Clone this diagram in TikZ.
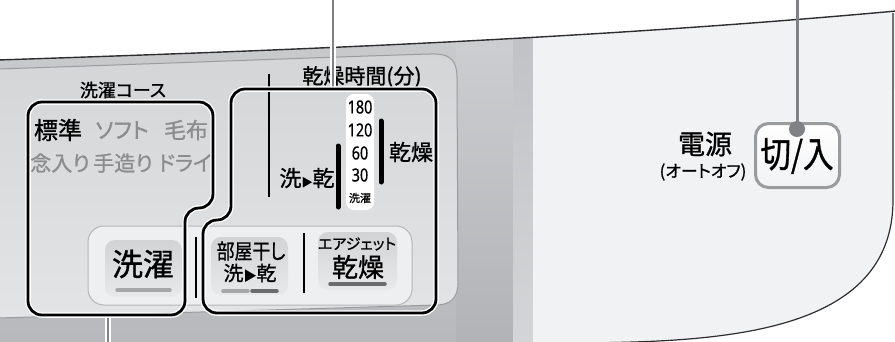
\documentclass[tikz,border=0pt]{standalone}
\usepackage{fontspec}
\setmainfont{Noto Sans CJK JP}[RawFeature=+palt, FakeBold=1]
\newfontfamily\numfont{Noto Sans}[FakeBold=0.6]
\usetikzlibrary{positioning}
\definecolor{edgecol}{HTML}{2E2E30}
\definecolor{basetop}{HTML}{CBCCCE}
\definecolor{basebot}{HTML}{B8B9BC}
\definecolor{sidetop}{HTML}{D0D1D3}
\definecolor{sidebot}{HTML}{B2B3B6}
\definecolor{stripetop}{HTML}{BFC0C3}
\definecolor{stripebot}{HTML}{D4D5D7}
\definecolor{facecol}{HTML}{F1F2F4}
\definecolor{innertop}{HTML}{D4D5D7}
\definecolor{innerbot}{HTML}{E3E4E6}
\definecolor{innerline}{HTML}{9A9B9D}
\definecolor{bandcol}{HTML}{EEEFF0}
\definecolor{bandline}{HTML}{B4B5B7}
\definecolor{btntop}{HTML}{D2D3D5}
\definecolor{btnbot}{HTML}{E8E9EA}
\definecolor{optgray}{HTML}{8B8C8E}
\definecolor{leadgray}{HTML}{808184}
\definecolor{ulight}{HTML}{A6A7A9}
\definecolor{udark}{HTML}{6B6C6E}
\definecolor{pwrline}{HTML}{9A9B9D}
\newcommand{\fsz}[1]{\fontsize{#1}{#1}\selectfont}
\tikzset{
lbl/.style={inner sep=0pt, text=black},
optlbl/.style={inner sep=0pt, text=optgray},
btn/.style={rounded corners=10pt, top color=btntop, bottom color=btnbot, inner sep=0pt},
pwrbtn/.style={rounded corners=13pt, draw=pwrline, line width=3pt, top color=white, bottom color=facecol, inner sep=0pt},
boxline/.style={draw=black, line width=2.8pt, rounded corners=14pt, preaction={draw=white, line width=5.5pt}},
leader/.style={draw=leadgray, line width=2.6pt, preaction={draw=white, line width=5.5pt}},
bar/.style={line width=5pt, line cap=round},
ubar/.style={line width=3.5pt, line cap=round},
numcol/.style={fill=white, rounded corners=8pt, minimum width=28pt, minimum height=116pt, inner sep=0pt}
}

\begin{document}
\begin{tikzpicture}[x=1pt,y=-1pt]
\useasboundingbox (0,0) rectangle (895,341);
% body of the appliance
\begin{scope}
\clip (-2,60) .. controls (300,50) and (600,38) .. (896,11) -- (893,200) .. controls (893,335) and (720,342) .. (575,343) -- (-2,343) -- cycle;
\fill[top color=basetop, bottom color=basebot] (-2,0) rectangle (456,343);
\fill[top color=sidetop, bottom color=sidebot] (456,0) rectangle (513,343);
\fill[top color=stripetop, bottom color=stripebot] (513,0) rectangle (533,343);
\fill[facecol] (533,0) rectangle (900,343);
\end{scope}
\draw[line width=1.4pt, edgecol] (-2,60) .. controls (300,50) and (600,38) .. (896,11);
\draw[line width=1.2pt, edgecol] (893,13) -- (893,200) .. controls (893,335) and (720,342) .. (575,343);

% raised panel
\draw[top color=innertop, bottom color=innerbot, draw=innerline, line width=1pt]
  (-2,69) .. controls (150,64) and (300,58) .. (430,54) .. controls (452,53) and (457,62) .. (457,78)
  -- (458,283) .. controls (458,298) and (450,305) .. (436,305) -- (-2,318) -- cycle;
\draw[fill=bandcol, draw=bandline, line width=1pt, rounded corners=16pt] (88,226) rectangle (412,305);
\draw[line width=1.3pt] (196,237) -- (196,298);

% buttons
\node[btn, minimum width=77pt, minimum height=57pt] (washBtn) at (143.5,268.5) {};
\node[btn, minimum width=77pt, minimum height=58pt] (roomBtn) at (249.5,266) {};
\node[btn, minimum width=79pt, minimum height=58pt] (airBtn) at (357.5,261) {};
\draw[ubar, ulight] (117,290) -- (170,290);
\draw[ubar, ulight] (223,291) -- (248,291);
\draw[ubar, udark] (252,291) -- (277,291);
\draw[ubar, udark] (330,284) -- (385,284);
\draw[line width=1.3pt] (304,233) -- (304,293);

\node[lbl] (washTxt) at (143,264) {\fsz{31}洗濯};
\node[lbl] (roomTxt) at (251,251) {\scalebox{0.85}[1]{\fsz{21}部屋干し}};
\node[lbl] (roomSub) at (250,273) {\fsz{20}洗{\fsz{13}▶}乾};
\node[lbl] (airTxt) at (357,244) {\fsz{15}エアジェット};
\node[lbl] (airSub) at (358,267) {\fsz{26}乾燥};

% course labels
\node[lbl] (courseTitle) at (123,90) {\fsz{18}洗濯コース};
\node[lbl] (hyojun) at (58,130) {\fsz{24}標準};
\node[optlbl] (soft) at (122,130) {\fsz{22}ソフト};
\node[optlbl] (moufu) at (186,130) {\fsz{22}毛布};
\node[optlbl] (nenIri) at (60,163) {\fsz{21}念入り};
\node[optlbl] (tezukuri) at (123,163) {\fsz{21}手造り};
\node[optlbl] (dorai) at (185,163) {\fsz{21}ドライ};

% drying time
\node[lbl] (dryTitle) at (362,77) {\fsz{21}乾燥時間(分)};
\draw[line width=1.3pt] (269,74) -- (269,197);
\node[lbl] (washDry) at (307,178) {\fsz{22}洗{\fsz{11}▶}乾};
\node[numcol] (numCol) at (360,152) {};
\node[lbl] (n180) at (360,107) {\scalebox{0.8}[1]{\numfont\fsz{18}180}};
\node[lbl] (n120) at (360,130) {\scalebox{0.8}[1]{\numfont\fsz{18}120}};
\node[lbl] (n60) at (360,153) {\scalebox{0.8}[1]{\numfont\fsz{18}60}};
\node[lbl] (n30) at (360,175) {\scalebox{0.8}[1]{\numfont\fsz{18}30}};
\node[lbl] (nWash) at (360,198) {\fsz{11}洗濯};
\draw[bar] (338,146) -- (338,207);
\draw[bar] (381,121) -- (381,182);
\node[lbl] (dryLbl) at (411,152) {\fsz{22}乾燥};

% leaders
\coordinate (dryTop) at (333,-3);
\coordinate (dryFoot) at (333,88);
\draw[leader] (dryTop) -- (dryFoot);
\coordinate (courseFoot) at (108,316);
\coordinate (courseEnd) at (108,345);
\draw[leader] (courseFoot) -- (courseEnd);

% outlined groups
\draw[boxline] (120,102) -- (213,102) -- (213,208) -- (185,208) -- (185,315) -- (28,315) -- (28,102) -- cycle;
\draw[boxline] (330,89) -- (436,89) -- (436,313) -- (203,313) -- (203,220) -- (231,220) -- (231,89) -- cycle;

% power
\node[lbl] (dengen) at (705,144) {\fsz{27}電源};
\node[lbl] (autoOff) at (703,172) {\fsz{17}(オートオフ)};
\node[pwrbtn, minimum width=84pt, minimum height=64pt] (pwrBtn) at (797.5,155.5) {};
\node[lbl] (pwrTxt) at (797,156) {\scalebox{0.85}[1]{\fsz{36}切/入}};
\coordinate (pwrTop) at (797,-3);
\node[circle, fill=leadgray, minimum size=16pt, inner sep=0pt] (pwrDot) at (797,129) {};
\draw[draw=leadgray, line width=3pt] (pwrTop) -- (pwrDot.center);
\end{tikzpicture}
\end{document}
